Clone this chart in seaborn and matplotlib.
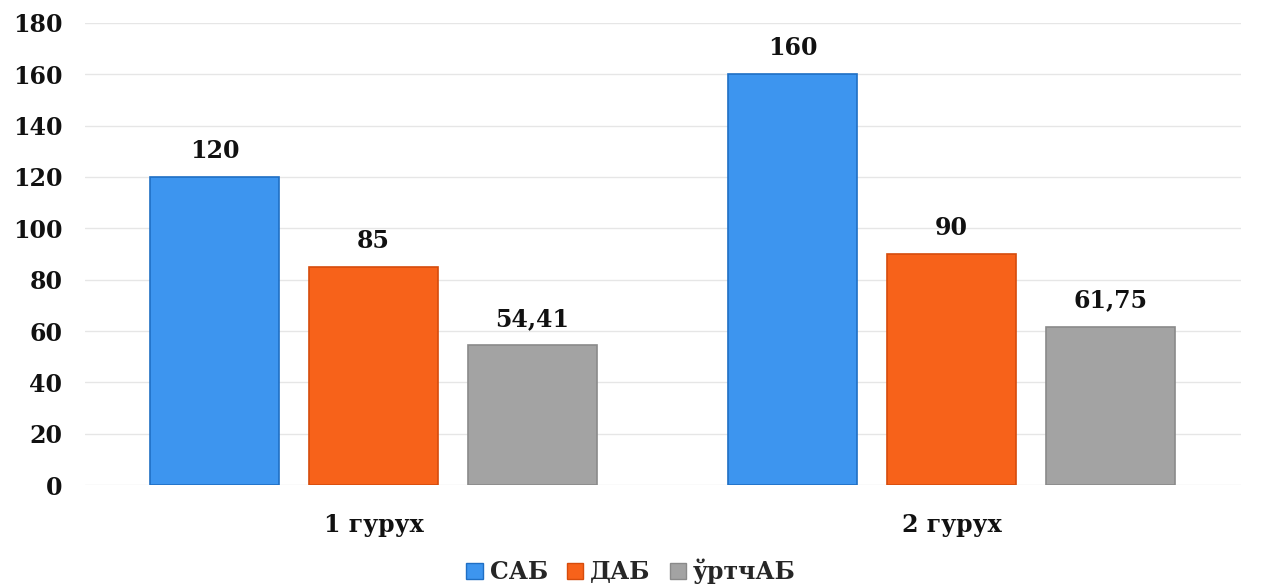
import matplotlib
matplotlib.use("Agg")
import matplotlib.pyplot as plt
import seaborn as sns
import pandas as pd

groups = ["1 гурух", "2 гурух"]
series = ["САБ", "ДАБ", "ўртчАБ"]
sab = [120, 160]
dab = [85, 90]
urt = [54.41, 61.75]
y_ticks = [0, 20, 40, 60, 80, 100, 120, 140, 160, 180]
colors = ["#3d95ef", "#f7621a", "#a3a3a3"]
edge_colors = ["#1f6fc4", "#d64c0c", "#8a8a8a"]

rows = []
for name, vals in zip(series, [sab, dab, urt]):
    for g, v in zip(groups, vals):
        rows.append({"group": g, "series": name, "value": v})
df = pd.DataFrame(rows)

sns.set_theme(style="white")
plt.rcParams["font.family"] = ["DejaVu Serif"]
plt.rcParams["font.weight"] = "bold"

fig = plt.figure(figsize=(12.62, 5.88), dpi=100)
ax = fig.add_axes([0.067, 0.175, 0.916, 0.786])

sns.barplot(data=df, x="group", y="value", hue="series", order=groups,
            hue_order=series, palette=colors, saturation=1, width=0.825,
            gap=0.19, errorbar=None, ax=ax, zorder=3)

for container, ec in zip(ax.containers, edge_colors):
    for bar in container:
        bar.set_edgecolor(ec)
        bar.set_linewidth(1.2)
    labels = [f"{v:g}".replace(".", ",") for v in container.datavalues]
    ax.bar_label(container, labels=labels, padding=10, fontsize=17,
                 fontweight="bold", color="#111111")

ax.set_ylim(0, 180)
ax.set_xlim(-0.5, 1.5)
ax.set_yticks(y_ticks)
ax.yaxis.grid(True, color="#e6e6e6", linewidth=1, zorder=0)
ax.set_axisbelow(True)
for s in ax.spines.values():
    s.set_visible(False)
ax.set_xlabel("")
ax.set_ylabel("")
ax.tick_params(axis="y", labelsize=17, pad=16, length=0)
ax.tick_params(axis="x", labelsize=17, pad=20, length=0)
for lab in ax.get_yticklabels() + ax.get_xticklabels():
    lab.set_fontweight("bold")
    lab.set_color("#111111")

ax.legend_.remove()
handles = [plt.Rectangle((0, 0), 1, 1, facecolor=c, edgecolor=e)
           for c, e in zip(colors, edge_colors)]
fig.legend(handles, series, loc="lower center", bbox_to_anchor=(0.5, -0.03),
           ncol=3, frameon=False, handlelength=0.7, handleheight=0.7,
           handletextpad=0.3, columnspacing=0.8,
           prop={"size": 17, "weight": "bold"})

fig.savefig("out.png", dpi=100, facecolor="white")
